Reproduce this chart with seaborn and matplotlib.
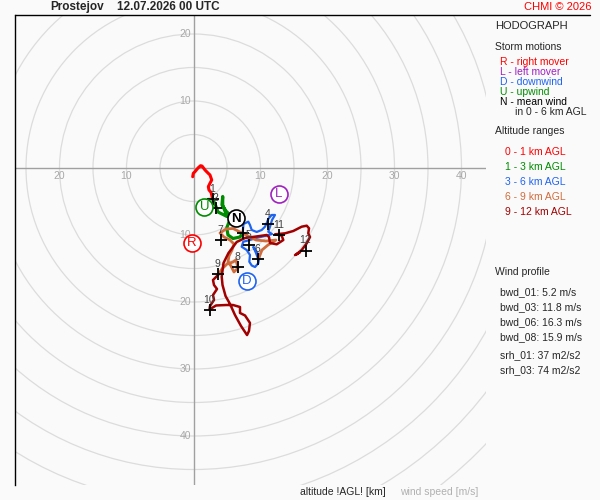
import numpy as np
import pandas as pd
import matplotlib
matplotlib.use("Agg")
import matplotlib.pyplot as plt
from matplotlib.lines import Line2D
import seaborn as sns

# hodograph trace, u / v wind components [m/s], split by altitude range
u_0_1 = [-0.12, -0.03, 0.22, 0.67, 1.04, 1.27, 1.72, 2.16, 2.46, 2.72, 2.46, 2.21, 2.31, 2.61, 2.76, 2.84]
v_0_1 = [-1.30, -0.79, -0.55, 0.0, 0.34, 0.30, -0.30, -0.75, -1.04, -1.79, -2.28, -2.79, -3.28, -3.63, -4.18, -4.63]

u_1_3 = [2.84, 3.21, 3.66, 4.55, 5.0, 4.36, 4.36, 4.25, 4.85, 5.45, 5.6, 5.3, 4.96, 5.15, 5.9, 6.94, 7.34]
v_1_3 = [-4.63, -5.37, -6.57, -7.01, -7.24, -5.52, -4.25, -5.52, -6.42, -7.01, -7.61, -8.06, -8.96, -10.0, -10.52, -10.30, -9.66]

u_3_6 = [7.34, 7.46, 8.18, 8.43, 8.69, 9.43, 10.18, 10.67, 10.93, 11.16, 11.67, 12.16, 11.72, 11.42, 11.16, 11.72,
         10.67, 9.33, 8.43, 7.43, 7.19, 7.94, 8.43, 8.33, 8.69, 9.18, 9.67, 9.82, 9.43, 8.93, 9.33, 9.67]
v_3_6 = [-9.66, -8.36, -8.01, -8.51, -9.25, -9.55, -9.25, -8.76, -8.21, -7.61, -7.01, -7.01, -7.76, -8.76, -9.51, -9.85,
         -10.15, -10.45, -10.75, -11.0, -11.75, -12.24, -12.99, -13.99, -14.55, -14.78, -14.22, -13.24, -12.49, -11.79, -12.69, -13.63]

u_6_9 = [9.67, 10.22, 11.12, 12.31, 10.82, 9.33, 8.13, 6.94, 5.90, 4.85, 3.96, 4.55, 5.45, 6.04, 5.75, 5.30,
         5.15, 5.60, 6.04, 6.64, 6.34, 5.90, 5.0, 4.25, 3.66]
v_6_9 = [-13.63, -12.24, -11.49, -10.75, -10.90, -10.75, -10.15, -9.55, -9.03, -9.10, -9.70, -10.30, -10.75, -11.34, -12.24, -13.13,
         -14.03, -14.63, -15.52, -14.93, -13.73, -14.03, -14.33, -15.07, -15.97]

u_9_12 = [3.66, 2.91, 3.06, 3.51, 2.91, 3.06, 2.46, 2.39, 3.36, 4.85, 5.90, 6.94, 6.94, 7.69, 8.43, 8.28, 7.99,
          7.09, 6.19, 5.45, 4.78, 4.33, 4.21, 4.48, 5.22, 6.45, 7.69, 9.18, 10.93, 11.27, 11.42, 12.42, 13.40,
          13.16, 12.16, 13.66, 14.90, 16.15, 16.90, 17.24, 17.13, 17.39, 16.90, 16.15, 15.40, 15.90, 15.15]
v_9_12 = [-15.97, -16.72, -17.46, -18.06, -18.96, -19.70, -20.60, -21.12, -20.52, -20.45, -20.45, -20.75, -21.64, -22.01, -23.13, -24.33, -24.93,
          -23.58, -21.94, -20.30, -19.10, -17.46, -16.22, -14.18, -12.69, -11.04, -10.45, -10.25, -10.0, -10.30, -11.19, -11.39, -10.75,
          -10.07, -9.90, -9.75, -9.40, -8.76, -8.61, -9.0, -9.75, -10.30, -11.24, -12.24, -12.88, -12.54, -12.99]

# wind at every km AGL
km_levels = [1, 2, 3, 4, 5, 6, 7, 8, 9, 10, 11, 12]
km_u = [2.84, 3.36, 7.34, 11.16, 8.33, 9.67, 4.10, 6.60, 3.61, 2.46, 12.81, 16.79]
km_v = [-4.63, -6.01, -9.66, -8.36, -11.49, -13.63, -10.75, -14.82, -15.87, -21.19, -10.0, -12.34]

# storm motions
storm_names = ["R", "L", "D", "U", "N"]
storm_u = [-0.27, 12.76, 7.93, 1.64, 6.34]
storm_v = [-11.2, -3.88, -16.8, -5.78, -7.51]

x_ticks = [-20, -10, 10, 20, 30, 40]
y_ticks = [20, 10, -10, -20, -30, -40]
rings = [5, 10, 15, 20, 25, 30, 35, 40, 45, 50, 55, 60, 65, 70, 75]

station = "Prostejov"
run_time = "12.07.2026 00 UTC"
profile_lines = ["bwd_01: 5.2 m/s", "bwd_03: 11.8 m/s", "bwd_06: 16.3 m/s", "bwd_08: 15.9 m/s"]
srh_lines = ["srh_01: 37 m2/s2", "srh_03: 74 m2/s2"]

RED = "#ff0000"
GREEN = "#008c00"
BLUE = "#1e64f0"
ORANGE = "#d06c3c"
DARKRED = "#a00000"
PURPLE = "#a020c0"
BG = "#fafafa"
GRID = "#dcdcdc"
LABEL = "#a8a8a8"

sns.set_style("white")
plt.rcParams["font.family"] = ["Liberation Sans", "DejaVu Sans"]

fig = plt.figure(figsize=(6, 5), dpi=100, facecolor=BG)

# axes: x 15..486 px, y 15..485 px, 6.7 px per m/s, origin at (193.5, 168)
ax = fig.add_axes([15 / 600, 15 / 500, 471 / 600, 470 / 500])
ax.set_facecolor(BG)
scale = 6.7
ax.set_xlim((15 - 193.5) / scale, (486 - 193.5) / scale)
ax.set_ylim((168 - 485) / scale, (168 - 15) / scale)
ax.set_xticks([])
ax.set_yticks([])
for s in ["top", "right", "bottom"]:
    ax.spines[s].set_visible(False)
ax.spines["left"].set_color("black")
ax.spines["left"].set_linewidth(1)

# rings + axis lines
for r in rings:
    ax.add_patch(plt.Circle((0, 0), r, fill=False, color=GRID, lw=0.9, zorder=1))
ax.axhline(0, color="#a0a0a0", lw=1, zorder=2)
ax.axvline(0, color="#a0a0a0", lw=1, zorder=2)

for t in x_ticks:
    ax.text(t, -1.25, str(abs(t)), color=LABEL, fontsize=7.5, ha="center", va="center", zorder=3)
for t in y_ticks:
    ax.text(-0.35, t, str(abs(t)), color=LABEL, fontsize=7.5, ha="right", va="center", zorder=3)

# hodograph segments
segments = [(u_0_1, v_0_1, RED, 2.2), (u_1_3, v_1_3, GREEN, 2.3), (u_3_6, v_3_6, BLUE, 1.6),
            (u_6_9, v_6_9, ORANGE, 2.0), (u_9_12, v_9_12, DARKRED, 1.8)]
for su, sv, col, lw in segments:
    df = pd.DataFrame({"u": su, "v": sv})
    sns.lineplot(data=df, x="u", y="v", sort=False, estimator=None, color=col, lw=lw, ax=ax, zorder=4)

# km crosses with labels
kdf = pd.DataFrame({"u": km_u, "v": km_v, "km": km_levels})
sns.scatterplot(data=kdf, x="u", y="v", marker="+", s=70, color="black", linewidth=1.3, ax=ax, zorder=5)
for _, row in kdf.iterrows():
    ax.annotate(str(int(row["km"])), (row["u"], row["v"]), xytext=(-0.5, 7.5), textcoords="offset points",
                ha="center", va="center", fontsize=7.5, color="#404040", zorder=6)

# storm motion circles
storm_cols = [RED, PURPLE, BLUE, GREEN, "black"]
for name, su, sv, col in zip(storm_names, storm_u, storm_v, storm_cols):
    ax.scatter([su], [sv], s=150, facecolor="white", edgecolor=col, linewidth=1.2, zorder=7)
    ax.text(su, sv - 0.05, name, color=col, fontsize=9.5, ha="center", va="center", zorder=8,
            fontweight="bold" if name == "N" else "normal")

ax.set_xlabel("")
ax.set_ylabel("")


def px(x, y):
    return x / 600, 1 - y / 500


# frame top line runs on across the side panel
fig.add_artist(Line2D([15 / 600, 590 / 600], [1 - 15 / 500] * 2, color="black", lw=1))

fig.text(*px(50, 7), station, fontsize=8.5, fontweight="bold", va="center")
fig.text(*px(117, 7), run_time, fontsize=8.5, fontweight="bold", va="center")
fig.text(*px(591, 7), "CHMI \u00a9 2026", fontsize=8, color=RED, ha="right", va="center")

fig.text(*px(495, 26), "HODOGRAPH", fontsize=8, va="center")
fig.text(*px(495, 47), "Storm motions", fontsize=7.5, va="center")
legend_items = [("R - right mover", RED), ("L - left mover", PURPLE), ("D - downwind", BLUE),
                ("U - upwind", GREEN), ("N - mean wind", "black")]
for i, (txt, col) in enumerate(legend_items):
    fig.text(*px(500, 62 + 10 * i), txt, fontsize=7.5, color=col, va="center")
fig.text(*px(515, 112), "in 0 - 6 km AGL", fontsize=7.5, va="center")

fig.text(*px(495, 131), "Altitude ranges", fontsize=7.5, va="center")
ranges = [("0 - 1 km AGL", RED), ("1 - 3 km AGL", GREEN), ("3 - 6 km AGL", BLUE),
          ("6 - 9 km AGL", ORANGE), ("9 - 12 km AGL", DARKRED)]
for i, (txt, col) in enumerate(ranges):
    fig.text(*px(505, 152 + 15 * i), txt, fontsize=7.5, color=col, va="center")

fig.text(*px(495, 272), "Wind profile", fontsize=7.5, va="center")
for i, txt in enumerate(profile_lines):
    fig.text(*px(500, 292 + 15 * i), txt, fontsize=7.5, va="center")
for i, txt in enumerate(srh_lines):
    fig.text(*px(500, 355 + 15 * i), txt, fontsize=7.5, va="center")

fig.text(*px(300, 492), "altitude !AGL! [km]", fontsize=7.5, va="center")
fig.text(*px(400, 492), "wind speed [m/s]", fontsize=7.5, color="#b0b0b0", va="center")

fig.savefig("out.png", dpi=100, facecolor=BG)
